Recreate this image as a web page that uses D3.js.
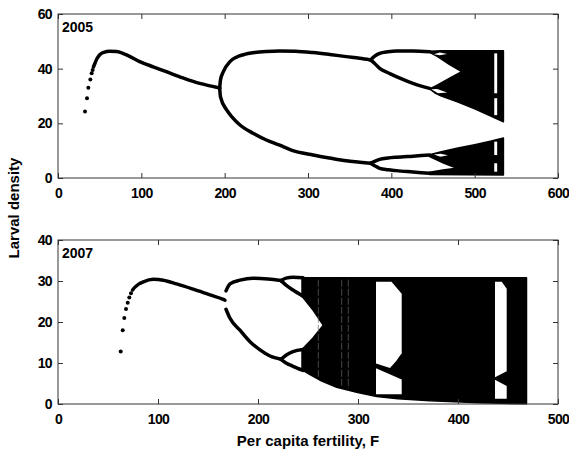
<!DOCTYPE html>
<html>
<head>
<meta charset="utf-8">
<script src="https://cdn.jsdelivr.net/npm/d3@7"></script>
<style>
body { margin: 0; background: #fff; }
text { font-family: "Liberation Sans", Arial, sans-serif; font-weight: bold; }
</style>
</head>
<body>
<script>
var width = 569;
var height = 453;

// ---- 2005 panel, values [F, larval density] ----
var dots2005 = [[32.4, 24.3], [34.8, 29.2], [36.4, 33.0], [38.8, 36.0], [40.4, 38.3], [41.6, 39.5]];
var branches2005 = [
    // period 1
    [[42.5, 40.6], [44.4, 42.0], [47, 43.8], [50.4, 45.2], [55, 46.0], [62, 46.4], [70, 46.3], [84, 44.8], [98, 42.6],
     [115, 40.6], [130, 38.9], [150, 36.6], [170, 34.6], [184, 33.6], [194, 32.9]],
    // period 2
    [[194, 32.9], [195, 35.9], [198.4, 38.9], [206.4, 42.6], [214, 44.2], [222.4, 45.1], [236, 45.9], [250, 46.3],
     [266, 46.5], [285, 46.4], [306, 45.9], [326, 45.2], [346, 44.4], [362, 43.8], [375, 43.2]],
    [[194, 32.9], [195, 29.7], [202.4, 24.9], [210, 21.9], [218.4, 19.4], [234, 16.4], [250, 13.9], [266, 12.0],
     [280, 10.2], [306, 8.4], [326, 7.3], [346, 6.3], [362, 5.8], [375, 5.4]],
    // period 4
    [[375, 43.2], [380, 44.6], [386, 45.6], [396, 46.2], [406, 46.5], [426, 46.5], [446, 46.2]],
    [[375, 43.2], [380, 41.9], [386, 40.1], [396, 38.5], [406, 37.1], [416, 35.8], [426, 34.6], [436, 33.6], [446, 32.8]],
    [[375, 5.4], [380, 6.1], [386, 6.8], [396, 7.3], [406, 7.6], [426, 8.0], [446, 8.4]],
    [[375, 5.4], [380, 4.5], [386, 3.5], [396, 3.0], [406, 2.7], [426, 2.2], [446, 1.7]]
];
// chaotic bands, outline includes the white wedge where two bands have not merged yet
var chaos2005 = [
    [[446, 46.4], [460, 46.6], [534.5, 46.6], [534.5, 20.6], [520, 22.6], [500, 25.3], [480, 27.8], [460, 30.0],
     [452, 31.2], [446, 32.6], [455, 34.0], [470, 36.5], [484.4, 38.9], [470, 41.5], [455, 44.5], [446, 46.0]],
    [[446, 8.5], [460, 9.6], [480, 11.0], [500, 12.2], [520, 13.5], [534.5, 14.6], [534.5, 1.1], [446, 1.3],
     [446, 2.1], [462, 2.9], [478, 3.6], [462, 5.6], [446, 7.8]]
];
var gaps2005 = [
    [[451, 45.3], [458, 45.9], [467, 45.4], [458, 44.9]],
    [[448, 32.5], [455, 32.6], [467, 31.3], [456, 31.0]],
    [[451, 8.6], [459, 8.9], [468, 8.3], [459, 7.8]],
    // window near F = 525
    [[523.5, 45.6], [527, 45.6], [527, 31], [523.5, 31]],
    [[523.5, 29.2], [527, 29.2], [527, 23], [523.5, 23]],
    [[523.5, 13.3], [527, 13.3], [527, 8.4], [523.5, 8.4]],
    [[523.5, 5.4], [527, 5.4], [527, 2.3], [523.5, 2.3]]
];

// ---- 2007 panel ----
var dots2007 = [[62.7, 12.8], [64.7, 18.0], [66.3, 21.0], [68, 23.2], [69.7, 24.7], [71.3, 26.0], [73, 27.0]];
var branches2007 = [
    [[74.5, 27.8], [77, 28.5], [81, 29.3], [85.3, 29.8], [95.3, 30.4], [105.3, 30.2], [118.7, 29.3], [135.3, 28.0],
     [152, 26.6], [165.3, 25.5], [167, 25.3]],
    [[168, 27.6], [172, 29.3], [182, 30.2], [195, 30.7], [210, 30.5], [223, 30.1]],
    [[168, 23.1], [172, 20.9], [182, 18.0], [192, 15.2], [202, 13.2], [212, 11.7], [223, 10.9]],
    [[223, 30.1], [228, 30.7], [235, 30.9], [245, 30.8]],
    [[223, 30.1], [228, 29.0], [235, 27.8], [245, 26.3]],
    [[223, 10.9], [228, 11.9], [235, 12.8], [245, 13.3]],
    [[223, 10.9], [228, 10.0], [235, 9.2], [245, 8.2]]
];
var chaos2007 = [
    [[244, 30.8], [468.5, 30.8], [468.5, 0.05], [422, 0.3], [372, 0.8], [340, 1.3], [318.7, 1.8], [299.7, 2.8],
     [278.7, 4.1], [262, 5.8], [252, 7.2], [244, 8.3], [244, 13.3], [255, 16.1], [265.3, 19.2], [255, 22.9],
     [244, 26.3]]
];
var gaps2007 = [
    // period-3 window
    [[318, 29.8], [333.5, 29.8], [343.7, 26.9], [343.7, 12.4], [338, 10.4], [332, 8.8], [325, 9.3], [318, 9.9]],
    [[318, 8.7], [343.7, 6.0], [343.7, 2.4], [318, 2.4]],
    // window near F = 443
    [[437, 29.8], [443.7, 29.8], [448.7, 28.1], [448.7, 8.0], [437, 6.5]],
    [[437, 5.9], [448.7, 4.4], [448.7, 1.3], [437, 1.3]]
];
// thin light streaks inside the chaos [F, lowest density]
var faint2007 = [[260.3, 6.5], [283.7, 4.4], [290.3, 3.8]];

var xTicks2005 = [0, 100, 200, 300, 400, 500, 600];
var yTicks2005 = [0, 20, 40, 60];
var xTicks2007 = [0, 100, 200, 300, 400, 500];
var yTicks2007 = [0, 10, 20, 30, 40];

var svg = d3.select('body')
    .append('svg')
    .attr('width', width)
    .attr('height', height);

function drawPanel(p) {
    var x = d3.scaleLinear().domain(p.xDomain).range([p.left, p.right]);
    var y = d3.scaleLinear().domain(p.yDomain).range([p.bottom, p.top]);
    var g = svg.append('g');

    var poly = d3.line()
        .x(function(d) { return x(d[0]); })
        .y(function(d) { return y(d[1]); });
    var curve = d3.line()
        .x(function(d) { return x(d[0]); })
        .y(function(d) { return y(d[1]); })
        .curve(d3.curveMonotoneX);

    g.selectAll('path.chaos')
        .data(p.chaos)
        .enter()
        .append('path')
        .attr('class', 'chaos')
        .attr('d', function(d) { return poly(d) + 'Z'; })
        .attr('fill', '#000')
        .attr('stroke', '#000')
        .attr('stroke-width', 1.5)
        .attr('stroke-linejoin', 'round');

    g.selectAll('path.branch')
        .data(p.branches)
        .enter()
        .append('path')
        .attr('class', 'branch')
        .attr('d', curve)
        .attr('fill', 'none')
        .attr('stroke', '#000')
        .attr('stroke-width', 3.5)
        .attr('stroke-linecap', 'round');

    g.selectAll('path.gap')
        .data(p.gaps)
        .enter()
        .append('path')
        .attr('class', 'gap')
        .attr('d', function(d) { return poly(d) + 'Z'; })
        .attr('fill', '#fff');

    g.selectAll('line.faint')
        .data(p.faint || [])
        .enter()
        .append('line')
        .attr('class', 'faint')
        .attr('x1', function(d) { return x(d[0]); })
        .attr('x2', function(d) { return x(d[0]); })
        .attr('y1', y(30.3))
        .attr('y2', function(d) { return y(d[1]); })
        .attr('stroke', '#666')
        .attr('stroke-width', 0.7)
        .attr('stroke-dasharray', '7,2');

    g.selectAll('circle')
        .data(p.dots)
        .enter()
        .append('circle')
        .attr('cx', function(d) { return x(d[0]); })
        .attr('cy', function(d) { return y(d[1]); })
        .attr('r', 2)
        .attr('fill', '#000');

    // axes, ticks pointing inwards
    var ax = [
        { a: d3.axisBottom(x).tickValues(p.xTicks).tickFormat(d3.format('d')), t: 'translate(0,' + p.bottom + ')' },
        { a: d3.axisTop(x).tickValues(p.xTicks).tickFormat(''), t: 'translate(0,' + p.top + ')' },
        { a: d3.axisLeft(y).tickValues(p.yTicks).tickFormat(d3.format('d')), t: 'translate(' + p.left + ',0)' },
        { a: d3.axisRight(y).tickValues(p.yTicks).tickFormat(''), t: 'translate(' + p.right + ',0)' }
    ];
    ax.forEach(function(o, i) {
        o.a.tickSizeInner(-5).tickSizeOuter(0).tickPadding(i === 0 ? 10 : 6);
        var ag = g.append('g').attr('transform', o.t).call(o.a);
        ag.select('.domain').remove();
        ag.selectAll('line').attr('stroke', '#333');
        ag.selectAll('text')
            .attr('fill', '#000')
            .style('font-size', '14px')
            .style('letter-spacing', '-0.6px');
    });

    g.append('rect')
        .attr('x', p.left)
        .attr('y', p.top)
        .attr('width', p.right - p.left)
        .attr('height', p.bottom - p.top)
        .attr('fill', 'none')
        .attr('stroke', '#333')
        .attr('stroke-width', 1);

    g.append('text')
        .attr('x', p.left + 4)
        .attr('y', p.top + 18)
        .style('font-size', '14px')
        .text(p.label);
}

drawPanel({
    left: 58, right: 558, top: 14, bottom: 178,
    xDomain: [0, 600], yDomain: [0, 60],
    xTicks: xTicks2005, yTicks: yTicks2005,
    dots: dots2005, branches: branches2005, chaos: chaos2005, gaps: gaps2005,
    label: '2005'
});

drawPanel({
    left: 58, right: 558, top: 240, bottom: 404,
    xDomain: [0, 500], yDomain: [0, 40],
    xTicks: xTicks2007, yTicks: yTicks2007,
    dots: dots2007, branches: branches2007, chaos: chaos2007, gaps: gaps2007, faint: faint2007,
    label: '2007'
});

svg.append('text')
    .attr('transform', 'translate(19,208) rotate(-90)')
    .attr('text-anchor', 'middle')
    .style('font-size', '15px')
    .text('Larval density');

svg.append('text')
    .attr('x', 308)
    .attr('y', 446)
    .attr('text-anchor', 'middle')
    .style('font-size', '15px')
    .text('Per capita fertility, F');
</script>
</body>
</html>
